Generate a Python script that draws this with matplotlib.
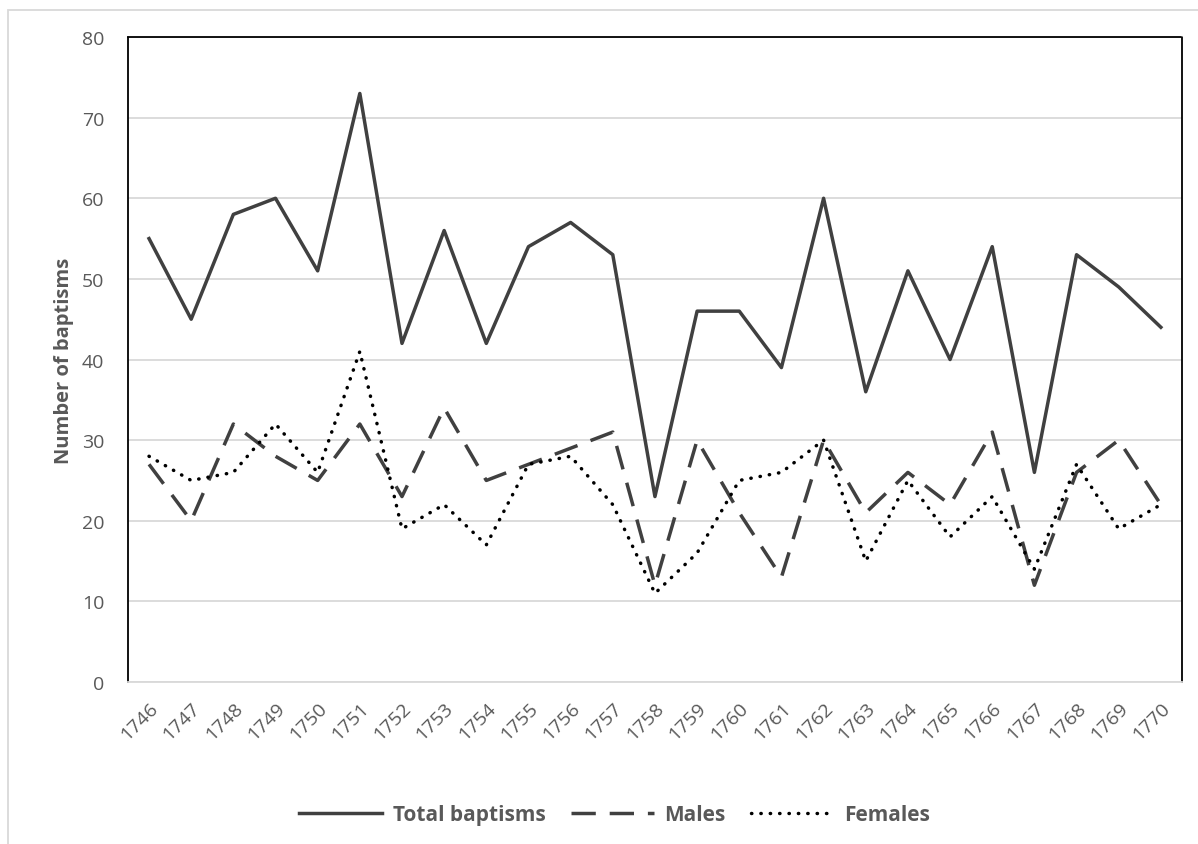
import numpy as np
import matplotlib.pyplot as plt
from matplotlib.patches import Rectangle

plt.rcParams['font.family'] = ['Open Sans', 'DejaVu Sans']

years = [str(y) for y in range(1746, 1771)]
total = [55, 45, 58, 60, 51, 73, 42, 56, 42, 54, 57, 53, 23, 46, 46, 39, 60, 36, 51, 40, 54, 26, 53, 49, 44]
males = [27, 20, 32, 28, 25, 32, 23, 34, 25, 27, 29, 31, 12, 30, 21, 13, 30, 21, 26, 22, 31, 12, 26, 30, 22]
females = [28, 25, 26, 32, 26, 41, 19, 22, 17, 27, 28, 22, 11, 16, 25, 26, 30, 15, 25, 18, 23, 14, 27, 19, 22]

grey = '#595959'
line_c = '#404040'

fig = plt.figure(figsize=(11.98, 8.45), dpi=100)
ax = fig.add_axes([0.1068, 0.1917, 0.8798, 0.7633])

x = np.arange(len(years))
ax.plot(x, total, color=line_c, lw=2.5, label='Total baptisms')
ax.plot(x, males, color=line_c, lw=2.5, dashes=(7, 4), label='Males')
ax.plot(x, females, color='black', lw=2.5, linestyle=(0, (0.1, 2.6)),
        dash_capstyle='round', label='Females')

ax.set_xlim(-0.5, len(years) - 0.5)
ax.set_ylim(0, 80)
ax.set_yticks(range(0, 81, 10))
ax.set_xticks(x)
ax.set_xticklabels(years, rotation=45, ha='right', va='top', rotation_mode='anchor')
ax.tick_params(axis='both', length=0, labelsize=14, colors=grey)
ax.tick_params(axis='y', pad=17)
ax.tick_params(axis='x', pad=12)
ax.yaxis.grid(True, color='#d9d9d9', lw=1.3)
ax.set_axisbelow(True)

for s in ['left', 'top', 'right']:
    ax.spines[s].set_linestyle((0, (1, 1)))
    ax.spines[s].set_color('black')
    ax.spines[s].set_linewidth(1.3)
ax.spines['bottom'].set_color('#d9d9d9')
ax.spines['bottom'].set_linewidth(1.3)

ax.set_ylabel('Number of baptisms', fontsize=14.5, fontweight='bold', color=grey, labelpad=6)

leg = fig.legend(loc='center', bbox_to_anchor=(0.513, 0.035), ncol=3, frameon=False,
                 handlelength=4.0, columnspacing=1.2, handletextpad=0.5,
                 prop={'size': 15, 'weight': 'bold'})
for t in leg.get_texts():
    t.set_color(grey)

# outer chart border
fig.add_artist(Rectangle((8 / 1198, -0.2), 1.2, 1.2 - 11 / 845, transform=fig.transFigure,
                         fill=False, edgecolor='#d9d9d9', lw=1.3))

fig.savefig('out.png', dpi=100)
